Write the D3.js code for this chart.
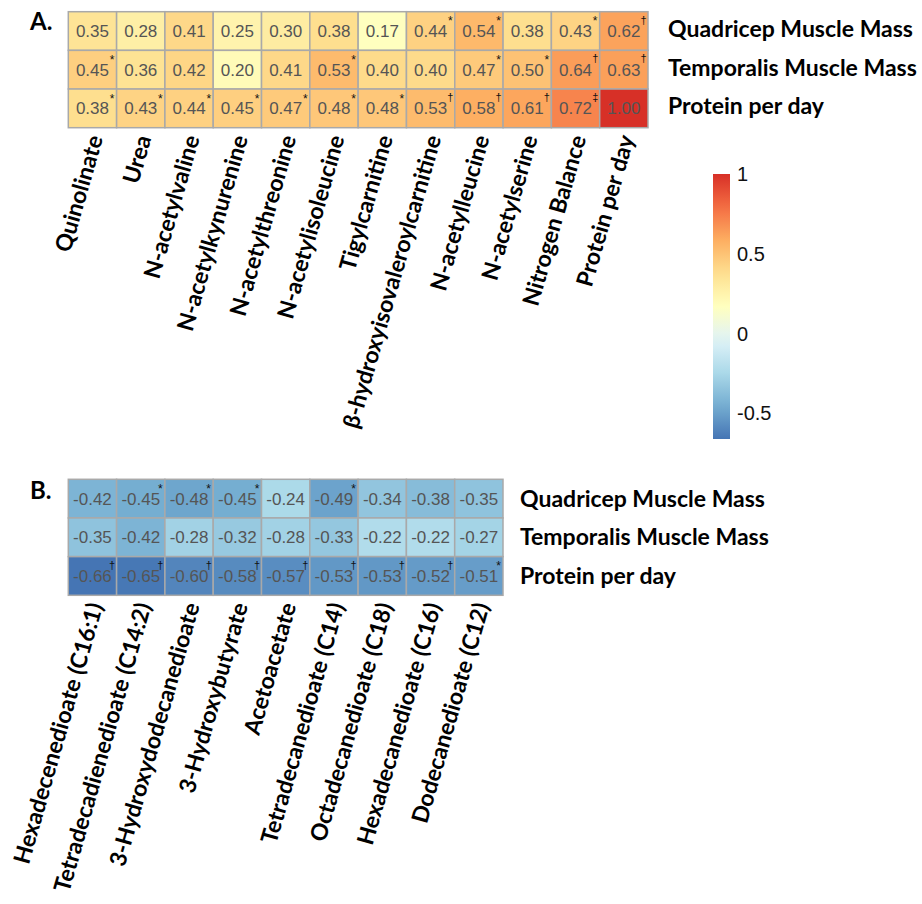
<!DOCTYPE html>
<html>
<head>
<meta charset="utf-8">
<script src="https://cdn.jsdelivr.net/npm/d3@7"></script>
<style>
  html, body { margin: 0; padding: 0; background: #fff; }
  svg { display: block; }
</style>
</head>
<body>
<svg id="chart" width="922" height="904"></svg>
<script>
// Row variables shared by both panels
const rowLabels = ["Quadricep Muscle Mass", "Temporalis Muscle Mass", "Protein per day"];

// Panel A: positively correlated metabolites
const colsA = ["Quinolinate", "Urea", "N-acetylvaline", "N-acetylkynurenine", "N-acetylthreonine",
  "N-acetylisoleucine", "Tigylcarnitine", "β-hydroxyisovaleroylcarnitine", "N-acetylleucine",
  "N-acetylserine", "Nitrogen Balance", "Protein per day"];
const quadA = [0.35, 0.28, 0.41, 0.25, 0.30, 0.38, 0.17, 0.44, 0.54, 0.38, 0.43, 0.62];
const tempA = [0.45, 0.36, 0.42, 0.20, 0.41, 0.53, 0.40, 0.40, 0.47, 0.50, 0.64, 0.63];
const protA = [0.38, 0.43, 0.44, 0.45, 0.47, 0.48, 0.48, 0.53, 0.58, 0.61, 0.72, 1.00];
const sigQuadA = ["", "", "", "", "", "", "", "*", "*", "", "*", "†"];
const sigTempA = ["*", "", "", "", "", "*", "", "", "*", "*", "†", "†"];
const sigProtA = ["*", "*", "*", "*", "*", "*", "*", "†", "†", "†", "‡", ""];

// Panel B: negatively correlated metabolites
const colsB = ["Hexadecenedioate (C16:1)", "Tetradecadienedioate (C14:2)", "3-Hydroxydodecanedioate",
  "3-Hydroxybutyrate", "Acetoacetate", "Tetradecanedioate (C14)", "Octadecanedioate (C18)",
  "Hexadecanedioate (C16)", "Dodecanedioate (C12)"];
const quadB = [-0.42, -0.45, -0.48, -0.45, -0.24, -0.49, -0.34, -0.38, -0.35];
const tempB = [-0.35, -0.42, -0.28, -0.32, -0.28, -0.33, -0.22, -0.22, -0.27];
const protB = [-0.66, -0.65, -0.60, -0.58, -0.57, -0.53, -0.53, -0.52, -0.51];
const sigQuadB = ["", "*", "*", "*", "", "*", "", "", ""];
const sigTempB = ["", "", "", "", "", "", "", "", ""];
const sigProtB = ["†", "†", "†", "†", "†", "†", "†", "†", "*"];

// Colour bar ticks
const barTicks = [1, 0.5, 0, -0.5];

const svg = d3.select("#chart");
const labelFont = "Lato, 'Open Sans', sans-serif";
const numFont = "'Liberation Sans', Arial, sans-serif";

// Colour scale: 9-class RdYlBu spread evenly over the full range of coefficients
const allVals = [].concat(quadA, tempA, protA, quadB, tempB, protB);
const [vMin, vMax] = d3.extent(allVals);
const palette = d3.schemeRdYlBu[9].slice().reverse();
const color = d3.scaleLinear()
  .domain(palette.map((_, i) => vMin + i * (vMax - vMin) / (palette.length - 1)))
  .range(palette)
  .interpolate(d3.interpolateRgb);

function fmt(v) { return v.toFixed(2); }

function panel(opts) {
  const { cols, rows, sigs, x0, x1, y0, y1, letter, letterY, labGap, labShift } = opts;
  const g = svg.append("g");
  const x = d3.scaleBand().domain(cols).range([x0, x1]);
  const y = d3.scaleBand().domain(rowLabels).range([y0, y1]);

  const cells = [];
  rowLabels.forEach((r, ri) => {
    cols.forEach((c, ci) => {
      cells.push({ row: r, col: c, v: rows[ri][ci], sig: sigs[ri][ci] });
    });
  });

  g.selectAll("rect.cell").data(cells).join("rect")
    .attr("class", "cell")
    .attr("x", d => x(d.col))
    .attr("y", d => y(d.row))
    .attr("width", x.bandwidth())
    .attr("height", y.bandwidth())
    .attr("fill", d => color(d.v))
    .attr("stroke", "#a9a9a9")
    .attr("stroke-width", 1.5);

  g.selectAll("text.val").data(cells).join("text")
    .attr("class", "val")
    .attr("x", d => x(d.col) + x.bandwidth() / 2)
    .attr("y", d => y(d.row) + y.bandwidth() / 2)
    .attr("dy", "0.36em")
    .attr("text-anchor", "middle")
    .attr("font-family", numFont)
    .attr("font-size", 17)
    .attr("fill", "#555")
    .text(d => fmt(d.v));

  // significance marks in the upper-right corner of each cell
  g.selectAll("text.sig").data(cells.filter(d => d.sig)).join("text")
    .attr("class", "sig")
    .attr("x", d => x(d.col) + x.bandwidth() - 4.5)
    .attr("y", d => y(d.row) + (d.sig === "*" ? 13.5 : 12))
    .attr("text-anchor", "middle")
    .attr("font-family", numFont)
    .attr("font-size", d => d.sig === "*" ? 12 : 11)
    .attr("fill", "#111")
    .text(d => d.sig);

  // Row labels on the right
  g.selectAll("text.rowlab").data(rowLabels).join("text")
    .attr("class", "rowlab")
    .attr("x", x1 + labGap)
    .attr("y", d => y(d) + y.bandwidth() / 2 + labShift)
    .attr("dy", "0.35em")
    .attr("font-family", labelFont)
    .attr("font-weight", 700)
    .attr("font-size", 23)
    .attr("fill", "#000")
    .text(d => d);

  // Rotated column labels below
  g.selectAll("text.collab").data(cols).join("text")
    .attr("class", "collab")
    .attr("transform", d => `translate(${x(d) + x.bandwidth() / 2 + 3},${y1 + 8}) rotate(-74)`)
    .attr("dy", "0.35em")
    .attr("text-anchor", "end")
    .attr("font-family", labelFont)
    .attr("font-weight", 700)
    .attr("font-size", 23)
    .attr("fill", "#000")
    .text(d => d);

  svg.append("text")
    .attr("x", 30)
    .attr("y", letterY)
    .attr("font-family", labelFont)
    .attr("font-weight", 700)
    .attr("font-size", 24)
    .text(letter);
}

panel({
  cols: colsA, rows: [quadA, tempA, protA], sigs: [sigQuadA, sigTempA, sigProtA],
  x0: 68.3, x1: 648, y0: 11.7, y1: 127.7, letter: "A.", letterY: 30, labGap: 20, labShift: -2
});
panel({
  cols: colsB, rows: [quadB, tempB, protB], sigs: [sigQuadB, sigTempB, sigProtB],
  x0: 68.3, x1: 503, y0: 479.3, y1: 595.3, letter: "B.", letterY: 499, labGap: 17, labShift: 0
});

// Colour bar
const barX = 713, barW = 17;
const yBar = d3.scaleLinear().domain([vMin, vMax]).range([439, 174]);
const defs = svg.append("defs");
const grad = defs.append("linearGradient")
  .attr("id", "cbar")
  .attr("x1", 0).attr("y1", 1).attr("x2", 0).attr("y2", 0);
grad.selectAll("stop").data(d3.range(0, 1.0001, 0.05)).join("stop")
  .attr("offset", t => t)
  .attr("stop-color", t => color(vMin + t * (vMax - vMin)));
svg.append("rect")
  .attr("x", barX)
  .attr("y", yBar(vMax))
  .attr("width", barW)
  .attr("height", yBar(vMin) - yBar(vMax))
  .attr("fill", "url(#cbar)");

const barAxis = svg.append("g")
  .attr("transform", `translate(${barX + barW},0)`)
  .call(d3.axisRight(yBar).tickValues(barTicks).tickSize(0).tickPadding(7)
    .tickFormat(v => String(v)));
barAxis.select(".domain").remove();
barAxis.selectAll("text")
  .attr("font-family", numFont)
  .attr("font-size", 20)
  .attr("fill", "#111");
</script>
</body>
</html>
